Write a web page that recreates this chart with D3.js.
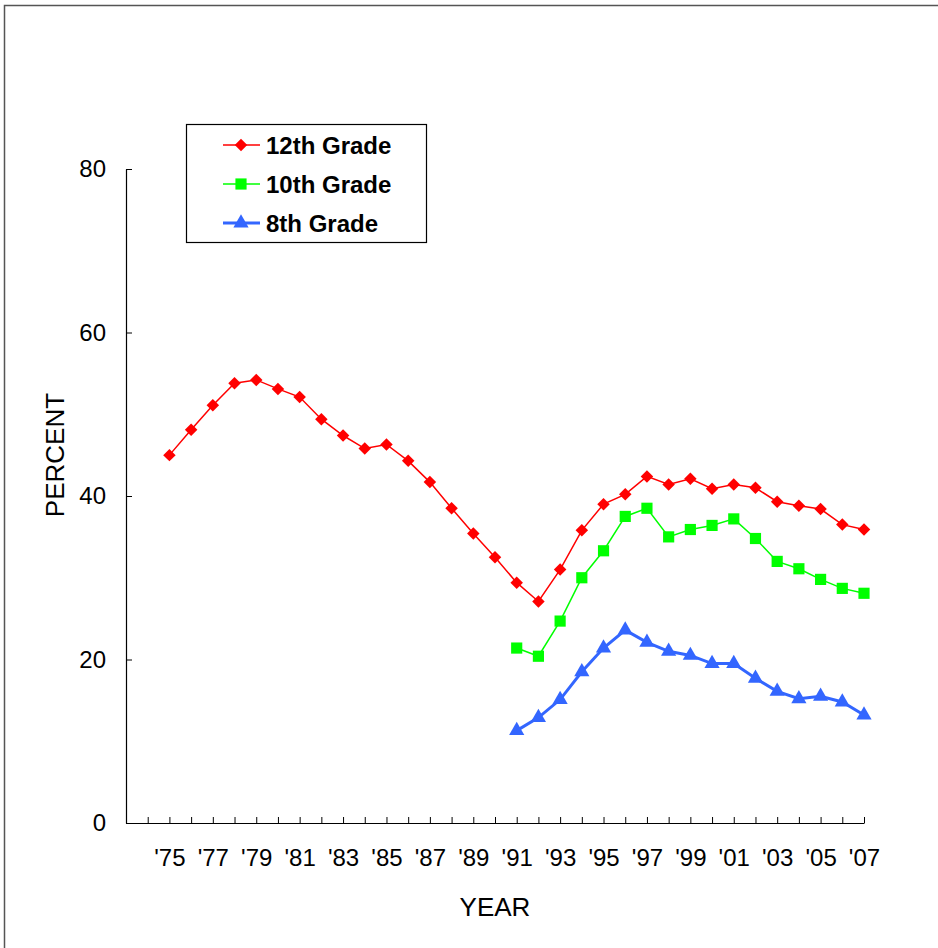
<!DOCTYPE html>
<html>
<head>
    <meta charset="utf-8">
    <title>percent by grade</title>
    <script type="text/javascript" src="https://d3js.org/d3.v7.min.js"></script>
    <style>
        body{
            margin:0px;
            background-color:white;
        }
        svg{
            position:absolute;
            top:0px;
            left:0px;
            font-family:"Liberation Sans", Arial, sans-serif;
        }
    </style>
</head>
<body>
    <div id="chart"></div>

    <script type="text/javascript">
        // values
        var years = [1975,1976,1977,1978,1979,1980,1981,1982,1983,1984,1985,1986,1987,1988,1989,1990,1991,1992,1993,1994,1995,1996,1997,1998,1999,2000,2001,2002,2003,2004,2005,2006,2007]
        var grade12 = [45.0,48.1,51.1,53.8,54.2,53.1,52.1,49.4,47.4,45.8,46.3,44.3,41.7,38.5,35.4,32.5,29.4,27.1,31.0,35.8,39.0,40.2,42.4,41.4,42.1,40.9,41.4,41.0,39.3,38.8,38.4,36.5,35.9]
        var years10and8 = [1991,1992,1993,1994,1995,1996,1997,1998,1999,2000,2001,2002,2003,2004,2005,2006,2007]
        var grade10 = [21.4,20.4,24.7,30.0,33.3,37.5,38.5,35.0,35.9,36.4,37.2,34.8,32.0,31.1,29.8,28.7,28.1]
        var grade8 = [11.3,12.9,15.1,18.5,21.4,23.6,22.1,21.0,20.5,19.5,19.5,17.7,16.1,15.2,15.5,14.8,13.2]
        var yTicks = [0,20,40,60,80]
        var legendNames = ["12th Grade","10th Grade","8th Grade"]

        var width = 938
        var height = 948

        var svg = d3.select("#chart").append("svg")
            .attr("width",width)
            .attr("height",height)

        //outer frame, only top and left show in the picture
        svg.append("rect")
            .attr("x",4.5).attr("y",5.5)
            .attr("width",1000).attr("height",1000)
            .attr("fill","none")
            .attr("stroke","#555555")
            .attr("stroke-width",1.5)

        var x = d3.scaleLinear().domain([1973,2007]).range([126,864])
        var y = d3.scaleLinear().domain([0,80]).range([823,169])

        // excel style diamond = square turned 45deg
        var series = [
            {name:legendNames[0], years:years, values:grade12, color:"#ff0000", width:1.5, shape:d3.symbolSquare, size:78, rot:45},
            {name:legendNames[1], years:years10and8, values:grade10, color:"#00ff00", width:1.5, shape:d3.symbolSquare, size:125, rot:0},
            {name:legendNames[2], years:years10and8, values:grade8, color:"#3366ff", width:3, shape:d3.symbolTriangle, size:100, rot:0}
        ]

        //x axis: a tick every year, label every other year
        var allYears = d3.range(1973,2008)
        var xAxis = d3.axisBottom(x)
            .tickValues(allYears)
            .tickSizeInner(-6)
            .tickSizeOuter(0)
            .tickPadding(26)
            .tickFormat(function(d){
                if(d >= 1975 && d % 2 == 1){
                    return "'"+String(d).slice(2)
                }
                return ""
            })
        var gx = svg.append("g").attr("transform","translate(0,823)").call(xAxis)
        gx.selectAll("text").attr("font-size",24).attr("fill","#000").attr("font-family","Liberation Sans, Arial, sans-serif")
        gx.selectAll("line").attr("stroke","#000")
        gx.select(".domain").attr("stroke","#000").attr("stroke-width",1.2)

        var yAxis = d3.axisLeft(y)
            .tickValues(yTicks)
            .tickSizeInner(-6)
            .tickSizeOuter(0)
            .tickPadding(20)
        var gy = svg.append("g").attr("transform","translate(126,0)").call(yAxis)
        gy.selectAll("text").attr("font-size",24).attr("fill","#000").attr("font-family","Liberation Sans, Arial, sans-serif")
        gy.selectAll("line").attr("stroke","#000")
        gy.select(".domain").attr("stroke","#000").attr("stroke-width",1.2)

        //axis titles
        svg.append("text")
            .attr("x",495).attr("y",916)
            .attr("text-anchor","middle")
            .attr("font-size",26)
            .text("YEAR")
        svg.append("text")
            .attr("transform","translate(64,455) rotate(-90)")
            .attr("text-anchor","middle")
            .attr("font-size",26)
            .text("PERCENT")

        var line = d3.line()

        series.forEach(function(s){
            var pts = s.years.map(function(yr,i){ return [x(yr), y(s.values[i])] })
            svg.append("path")
                .attr("d",line(pts))
                .attr("fill","none")
                .attr("stroke",s.color)
                .attr("stroke-width",s.width)
            svg.selectAll(null)
                .data(pts)
                .enter()
                .append("path")
                .attr("d",d3.symbol().type(s.shape).size(s.size))
                .attr("transform",function(d){ return "translate("+d[0]+","+d[1]+") rotate("+s.rot+")" })
                .attr("fill",s.color)
        })

        //legend
        var legend = svg.append("g")
        legend.append("rect")
            .attr("x",186.5).attr("y",124.5)
            .attr("width",240).attr("height",118)
            .attr("fill","white")
            .attr("stroke","#000")
            .attr("stroke-width",1.2)
        series.forEach(function(s,i){
            var ly = 145 + i*39
            legend.append("line")
                .attr("x1",223).attr("x2",260)
                .attr("y1",ly).attr("y2",ly)
                .attr("stroke",s.color)
                .attr("stroke-width",s.width)
            legend.append("path")
                .attr("d",d3.symbol().type(s.shape).size(s.size))
                .attr("transform","translate(241,"+ly+") rotate("+s.rot+")")
                .attr("fill",s.color)
            legend.append("text")
                .attr("x",266).attr("y",ly)
                .attr("dy","0.36em")
                .attr("font-size",24)
                .attr("font-weight","bold")
                .text(s.name)
        })
    </script>
</body>
</html>
